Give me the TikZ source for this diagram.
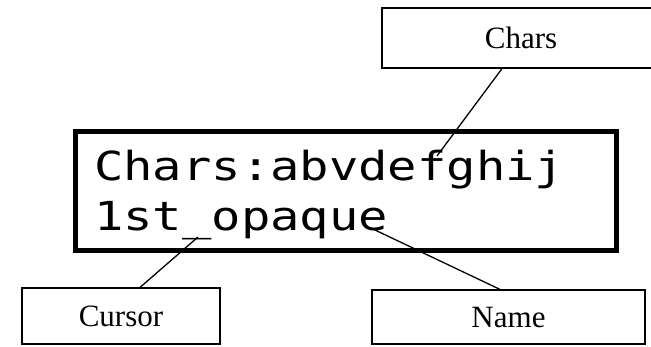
\documentclass[tikz,border=0pt]{standalone}
\usepackage{fontspec}
\setmainfont{Liberation Serif}
\newfontfamily\lcdfont[FakeStretch=1.22]{DejaVu Sans Mono}
\usepackage{tikz}
\usetikzlibrary{positioning}
\tikzset{
	labelbox/.style={draw, line width=1.2pt, font=\fontsize{31}{36}\selectfont, inner sep=0pt},
	lcdtext/.style={anchor=base west, inner sep=0pt, font=\lcdfont\fontsize{40}{44}\selectfont},
	pointer/.style={line width=1.3pt}
}

\begin{document}
\begin{tikzpicture}[x=1pt, y=-1pt]
	%display, its two lines and the three labels
	\useasboundingbox (0,0) rectangle (651,346);
	\draw [line width=5pt] (75.5,131.5) rectangle (616.5,250.5);
	\node [lcdtext] (line1) at (94,180) {Chars:abvdefghij};
	\node [lcdtext] (line2) at (94,230) {1st\_opaque};
	
	\node [labelbox, minimum width=278pt, minimum height=60pt] (chars) at (521,38) {Chars};
	\node [labelbox, minimum width=198pt, minimum height=56pt] (cursor) at (121,316) {Cursor};
	\node [labelbox, minimum width=273pt, minimum height=54pt] (name) at (508.5,317) {Name};
	
	\coordinate (fchar) at (437,156);
	\coordinate (under) at (198,237);
	\coordinate (lastE) at (375,230);
	
	\draw [pointer] ([xshift=-19pt]chars.south) -- (fchar);
	\draw [pointer] ([xshift=19pt]cursor.north) -- (under);
	\draw [pointer] ([xshift=-8.5pt]name.north) -- (lastE);
\end{tikzpicture}
\end{document}
